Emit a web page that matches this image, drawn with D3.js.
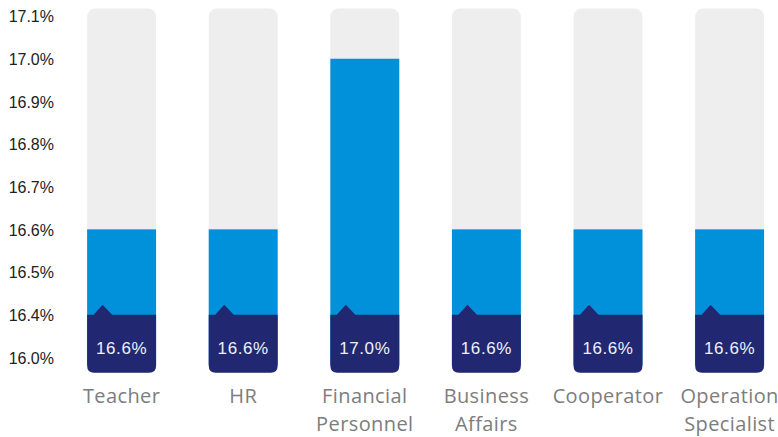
<!DOCTYPE html>
<html>
<head>
<meta charset="utf-8">
<script src="https://cdn.jsdelivr.net/npm/d3@7"></script>
<style>
  html, body { margin: 0; padding: 0; background: #fff; }
  svg { display: block; }
</style>
</head>
<body>
<svg id="chart" width="778" height="437"></svg>
<script>
// ---- data ----
const categories = [["Teacher"], ["HR"], ["Financial", "Personnel"], ["Business", "Affairs"], ["Cooperator"], ["Operation", "Specialist"]];
const values = [16.6, 16.6, 17.0, 16.6, 16.6, 16.6];
const valueLabels = ["16.6%", "16.6%", "17.0%", "16.6%", "16.6%", "16.6%"];
const tickValues = [16.3, 16.4, 16.5, 16.6, 16.7, 16.8, 16.9, 17.0, 17.1];
const tickLabels = ["16.0%", "16.4%", "16.5%", "16.6%", "16.7%", "16.8%", "16.9%", "17.0%", "17.1%"];
const baseValue = 16.4;

// ---- layout ----
const W = 778, H = 437;
const svg = d3.select("#chart");

const x = d3.scaleBand()
  .domain(d3.range(categories.length))
  .range([60.8, 790.4])
  .paddingInner(0.433)
  .paddingOuter(0.2165);

const y = d3.scaleLinear()
  .domain([16.3, 17.1])
  .range([357.3, 16.1]);

const bw = x.bandwidth();
const bgTop = y(17.1) - 7.5;
const bgBottom = y(16.3) + 15.4;
const r = 8;

// y axis
const yAxis = d3.axisLeft(y)
  .tickValues(tickValues)
  .tickSize(0)
  .tickPadding(0)
  .tickFormat((d, i) => tickLabels[i]);

const gy = svg.append("g")
  .attr("transform", "translate(54,0)")
  .call(yAxis);
gy.select(".domain").remove();
gy.selectAll("text")
  .attr("font-family", "'Liberation Sans', Arial, sans-serif")
  .attr("font-size", 16)
  .attr("fill", "#222")
  .attr("dy", "0.36em");

const bars = svg.append("g").selectAll("g")
  .data(values)
  .join("g")
  .attr("transform", (d, i) => `translate(${x(i)},0)`);

// background
bars.append("rect")
  .attr("x", 0).attr("y", bgTop)
  .attr("width", bw).attr("height", bgBottom - bgTop)
  .attr("rx", r).attr("ry", r)
  .attr("fill", "#eeeeee");

// blue bar
bars.append("rect")
  .attr("x", 0).attr("y", d => y(d))
  .attr("width", bw).attr("height", d => bgBottom - r - y(d))
  .attr("fill", "#0091da");

// dark base with rounded bottom corners + notch
const y0 = y(baseValue);
bars.append("path")
  .attr("d", () => {
    const rr = 7;
    return `M0,${y0} L6.5,${y0} L15.5,${y0 - 9.8} L25,${y0} L${bw},${y0} ` +
      `L${bw},${bgBottom - rr} Q${bw},${bgBottom} ${bw - rr},${bgBottom} ` +
      `L${rr},${bgBottom} Q0,${bgBottom} 0,${bgBottom - rr} Z`;
  })
  .attr("fill", "#212871");

// value labels
bars.append("text")
  .attr("x", bw / 2)
  .attr("y", 354)
  .attr("text-anchor", "middle")
  .attr("font-family", "'Liberation Sans', Arial, sans-serif")
  .attr("font-size", 17)
  .attr("letter-spacing", 0.6)
  .attr("fill", "#eef0f8")
  .text((d, i) => valueLabels[i]);

// category labels
const cat = svg.append("g").selectAll("text")
  .data(categories)
  .join("text")
  .attr("x", (d, i) => x(i) + bw / 2)
  .attr("y", 403)
  .attr("text-anchor", "middle")
  .attr("font-family", "'Open Sans', sans-serif")
  .attr("font-size", 20)
  .attr("letter-spacing", 0.4)
  .attr("fill", "#7d7d7d");
cat.selectAll("tspan")
  .data(d => d)
  .join("tspan")
  .attr("x", function () { return d3.select(this.parentNode).attr("x"); })
  .attr("dy", (d, i) => i === 0 ? 0 : 28)
  .text(d => d);
</script>
</body>
</html>
